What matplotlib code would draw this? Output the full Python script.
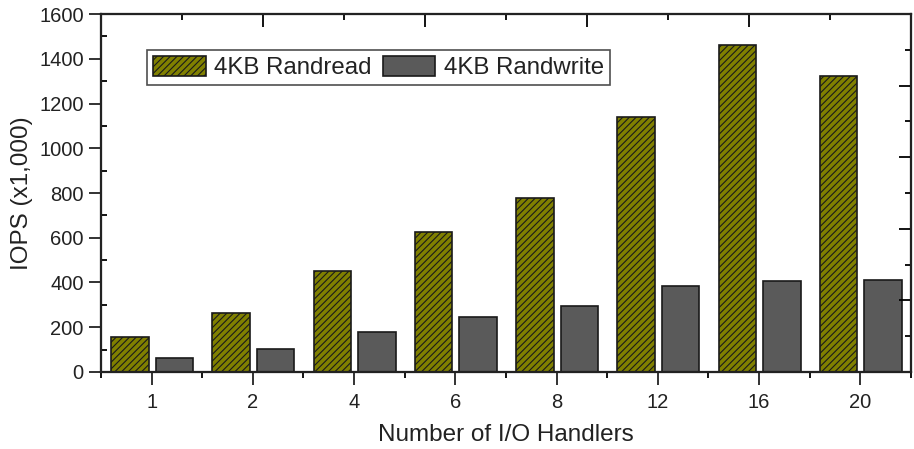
import numpy as np
import matplotlib
matplotlib.use("Agg")
import matplotlib.pyplot as plt
from matplotlib.ticker import MultipleLocator

plt.rcParams['font.family'] = ['Liberation Sans', 'DejaVu Sans']
plt.rcParams['hatch.linewidth'] = 0.8

# datos
handlers = ["1", "2", "4", "6", "8", "12", "16", "20"]
randread = [158, 265, 451, 626, 778, 1140, 1461, 1323]
randwrite = [61, 104, 179, 246, 295, 384, 407, 410]

fig = plt.figure(figsize=(9.14, 4.49), dpi=100)
ax = fig.add_axes([0.1105, 0.1715, 0.8862, 0.7973])

x = np.arange(len(handlers))
w = 0.37
ax.bar(x - 0.215, randread, w, color="#808000", edgecolor="#1a1a1a", linewidth=1.2,
       hatch="/////", label="4KB Randread")
ax.bar(x + 0.225, randwrite, w, color="#5a5a5a", edgecolor="#1a1a1a", linewidth=1.2,
       label="4KB Randwrite")

ax.set_xlim(-0.5, len(handlers) - 0.5)
ax.set_ylim(0, 1600)
ax.set_xticks(x)
ax.set_xticklabels(handlers)
ax.xaxis.set_minor_locator(MultipleLocator(1, offset=0.5))
ax.yaxis.set_major_locator(MultipleLocator(200))
ax.yaxis.set_minor_locator(MultipleLocator(100))

ax.tick_params(axis="both", which="major", direction="out", length=9, width=1.3,
               labelsize=14.5, colors="#222222", top=False, right=False)
ax.tick_params(axis="x", which="major", pad=6)
ax.tick_params(axis="x", which="minor", direction="out", length=4, width=1.3, top=False)
ax.tick_params(axis="y", which="minor", direction="in", length=4, width=1.3, right=False)
for s in ax.spines.values():
    s.set_linewidth(1.5)
    s.set_color("#222222")

ax.set_xlabel("Number of I/O Handlers", fontsize=17.5, color="#222222", labelpad=9)
ax.set_ylabel("IOPS (x1,000)", fontsize=17.5, color="#222222", labelpad=4)

# ejes superior y derecho con sus propias marcas
top = ax.twiny()
top.set_xlim(0, 10)
top.xaxis.set_major_locator(MultipleLocator(2))
top.xaxis.set_minor_locator(MultipleLocator(1))
top.tick_params(axis="x", which="major", direction="in", length=9, width=1.3, labeltop=False)
top.tick_params(axis="x", which="minor", direction="in", length=4, width=1.3)
right = ax.twinx()
right.set_ylim(0, 10)
right.yaxis.set_major_locator(MultipleLocator(2))
right.yaxis.set_minor_locator(MultipleLocator(1))
right.tick_params(axis="y", which="major", direction="in", length=9, width=1.3, labelright=False)
right.tick_params(axis="y", which="minor", direction="in", length=4, width=1.3)
for a in (top, right):
    for s in a.spines.values():
        s.set_linewidth(1.5)
        s.set_color("#222222")

leg = ax.legend(ncol=2, loc="upper left", bbox_to_anchor=(0.057, 0.9), fontsize=17.3,
                frameon=True, fancybox=False, handlelength=2.2, handleheight=0.9,
                handletextpad=0.34, columnspacing=0.45, borderpad=0.25, borderaxespad=0)
leg.get_frame().set_edgecolor("#222222")
leg.get_frame().set_linewidth(1.2)
for t in leg.get_texts():
    t.set_color("#222222")

fig.savefig("out.png", dpi=100)
